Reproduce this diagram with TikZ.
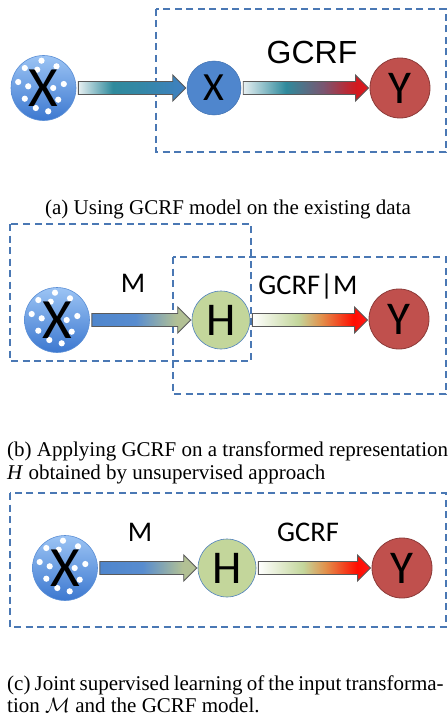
\documentclass[tikz,border=0pt]{standalone}
\usepackage{fontspec}
\setmainfont{Liberation Serif}
\newfontfamily\carl{Carlito}
\newfontfamily\lsans{Liberation Sans}
\usetikzlibrary{calc}
\definecolor{dashblue}{HTML}{4A78B4}
\definecolor{arrowgray}{HTML}{5A5A5A}
\definecolor{bigtop}{HTML}{9CC4F4}
\definecolor{bigbot}{HTML}{3C78D0}
\definecolor{bigborder}{HTML}{5B8FD6}
\definecolor{xblue}{HTML}{4F86CD}
\definecolor{xborder}{HTML}{3F70B0}
\definecolor{hgreen}{HTML}{C3D69B}
\definecolor{hborder}{HTML}{4F81BD}
\definecolor{yred}{HTML}{C0504D}
\definecolor{yborder}{HTML}{8C3A38}
\definecolor{tealmid}{HTML}{2F8A9C}
\definecolor{palestart}{HTML}{E6EFF1}
\definecolor{steelend}{HTML}{4080C2}
\definecolor{redend}{HTML}{DD1A20}
\definecolor{purplemid}{HTML}{7A5570}
\pgfdeclarehorizontalshading{arrAone}{100bp}{color(0bp)=(palestart); color(25bp)=(palestart); color(41bp)=(tealmid); color(55bp)=(tealmid!70!steelend); color(75bp)=(steelend); color(100bp)=(steelend)}
\pgfdeclarehorizontalshading{arrAtwo}{100bp}{color(0bp)=(palestart); color(25bp)=(palestart); color(42bp)=(tealmid); color(57bp)=(purplemid); color(70bp)=(redend!95!black); color(75bp)=(redend); color(100bp)=(redend)}
\pgfdeclarehorizontalshading{arrBone}{100bp}{color(0bp)=(xblue); color(25bp)=(xblue); color(47bp)=(xblue!95!white); color(68bp)=(hgreen!75!gray); color(75bp)=(hgreen!75!gray); color(100bp)=(hgreen!75!gray)}
\pgfdeclarehorizontalshading{arrBtwo}{100bp}{color(0bp)=(white); color(25bp)=(white); color(45bp)=(hgreen); color(55bp)=(hgreen!60!orange!80!red); color(69bp)=(red!90!orange); color(75bp)=(red!90); color(100bp)=(red!90)}
\tikzset{
  x=1pt, y=-1pt,
  dashbox/.style={draw=dashblue, line width=2pt, dash pattern=on 7pt off 4.5pt},
  bigcirc/.style={circle, inner sep=0pt, minimum size=65pt, top color=bigtop, bottom color=bigbot, draw=bigborder, line width=0.6pt},
  dotc/.style={fill=white},
  bigletter/.style={inner sep=0pt, font=\carl\fontsize{57}{60}\selectfont},
  xcirc/.style={circle, inner sep=0pt, minimum size=54pt, fill=xblue, draw=xborder, line width=0.5pt, font=\carl\fontsize{40}{44}\selectfont},
  hcirc/.style={circle, inner sep=0pt, minimum size=58pt, fill=hgreen, draw=hborder, line width=0.6pt, font=\carl\fontsize{47}{50}\selectfont},
  ycirc/.style={circle, inner sep=0pt, minimum size=60pt, fill=yred, draw=yborder, line width=0.8pt, font=\carl\fontsize{47}{50}\selectfont},
  lab/.style={inner sep=0pt, font=\carl\fontsize{28.5}{30}\selectfont},
  captext/.style={inner sep=0pt, font=\fontsize{21}{23}\selectfont},
}
\newcommand\fatarrow[3]{%
  \shade[shading=#1, draw=arrowgray, line width=0.9pt, line join=miter]
    let \p1=([xshift=2pt]#2.east), \p2=([xshift=-1pt]#3.west) in
    ({\x1},{\y1+6.5pt}) -- ({\x2-13pt},{\y1+6.5pt}) -- ({\x2-13pt},{\y1+13pt}) -- ({\x2},{\y1})
    -- ({\x2-13pt},{\y1-13pt}) -- ({\x2-13pt},{\y1-6.5pt}) -- ({\x1},{\y1-6.5pt}) -- cycle;}
\newcommand\bigx[2]{% #1 name, #2 position
  \node[bigcirc] (#1) at #2 {};
  \foreach \dx/\dy in {-18.7/-20,-2/-27.3,13/-21.7,-6.3/-18.3,-25.3/-6,-15.3/-1.7,9.7/0,20.3/-4,-18.7/10.7,14.7/11.7,-7.7/20,4.7/23.3}
    \fill[dotc] ([shift={(\dx,\dy)}]#1.center) circle (3.1pt);
  \node[bigletter] (#1t) at (#1.center) {X};}
\begin{document}
\begin{tikzpicture}
\useasboundingbox (0,0) rectangle (447,717);
\fill[white] (0,0) rectangle (447,717);
% ---------- panel (a)
\draw[dashbox] (156,9) rectangle (445.5,152);
\bigx{abx}{(43.5,88)}
\node[xcirc] (ax) at (214,88) {X};
\node[ycirc] (ay) at (400,88) {Y};
\fatarrow{arrAone}{abx}{ax}
\fatarrow{arrAtwo}{ax}{ay}
\node[inner sep=0pt, font=\lsans\fontsize{32}{34}\selectfont] (agcrf) at (312,52) {GCRF};
\node[captext, anchor=base] (capa) at (228,214) {(a) Using GCRF model on the existing data};
% ---------- panel (b)
\draw[dashbox] (10,224) rectangle (251,361);
\draw[dashbox] (173,257) rectangle (445.5,394);
\bigx{bbx}{(57,320)}
\node[hcirc] (bh) at (221,320) {H};
\node[ycirc] (by) at (399,319) {Y};
\fatarrow{arrBone}{bbx}{bh}
\fatarrow{arrBtwo}{bh}{by}
\node[lab] (bm) at (133,283) {M};
\node[lab] (bgcrf) at (308,287) {GCRF|M};
\node[captext, anchor=base west] (capb1) at (7,456) {(b) Applying GCRF on a transformed representation};
\node[captext, anchor=base west] (capb2) at (7,479) {\textit{H} obtained by unsupervised approach};
% ---------- panel (c)
\draw[dashbox] (10,493) rectangle (445.5,627);
\bigx{cbx}{(65,568)}
\node[hcirc] (ch) at (227,568) {H};
\node[ycirc] (cy) at (402,568) {Y};
\fatarrow{arrBone}{cbx}{ch}
\fatarrow{arrBtwo}{ch}{cy}
\node[lab] (cm) at (140,532) {M};
\node[lab] (cgcrf) at (308,532) {GCRF};
\node[captext, anchor=base west] (capc1) at (7,690) {\spaceskip=0.2em plus 0.05em (c) Joint supervised learning of the input transforma-};
\node[captext, anchor=base west] (capc2) at (7,712) {tion $\mathcal{M}$ and the GCRF model.};
\end{tikzpicture}
\end{document}
